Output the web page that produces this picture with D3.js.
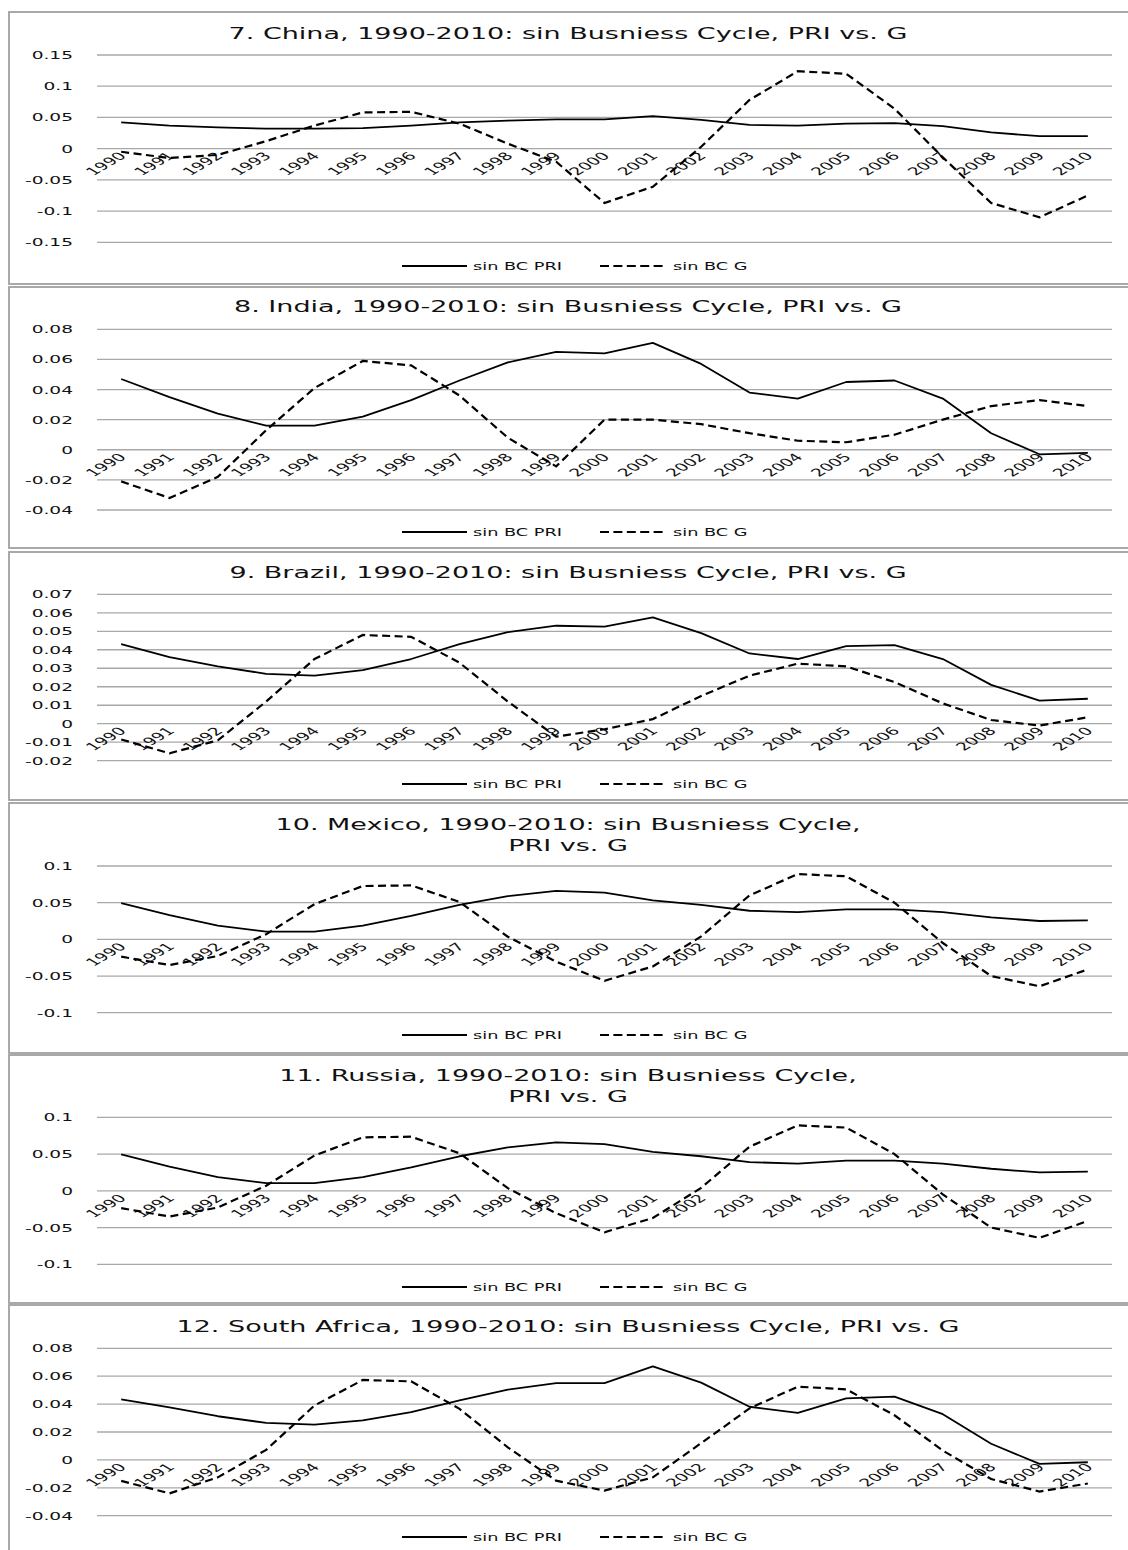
<!DOCTYPE html>
<html><head><meta charset="utf-8">
<script src="https://cdn.jsdelivr.net/npm/d3@7"></script>
<style>
body{margin:0;background:#fff}
svg{display:block}
text{font-family:"DejaVu Sans",Verdana,sans-serif;fill:#111}
</style>
</head><body>
<svg id="chart" width="1128" height="1550"></svg>
<script>
// ---------- data ----------
const years = ["1990","1991","1992","1993","1994","1995","1996","1997","1998","1999","2000",
               "2001","2002","2003","2004","2005","2006","2007","2008","2009","2010"];

const seriesNames = ["sin BC  PRI", "sin BC  G"];

const titles = [
  ["7. China, 1990-2010: sin Busniess Cycle, PRI vs. G"],
  ["8. India, 1990-2010: sin Busniess Cycle, PRI vs. G"],
  ["9. Brazil, 1990-2010: sin Busniess Cycle, PRI vs. G"],
  ["10. Mexico, 1990-2010: sin Busniess Cycle,", "PRI vs. G"],
  ["11. Russia, 1990-2010: sin Busniess Cycle,", "PRI vs. G"],
  ["12. South Africa, 1990-2010: sin Busniess Cycle, PRI vs. G"]
];

const chinaPRI = [0.042,0.037,0.034,0.032,0.032,0.033,0.037,0.042,0.045,0.047,0.047,0.052,0.046,0.038,0.037,0.040,0.041,0.036,0.026,0.020,0.020];
const chinaG   = [-0.005,-0.015,-0.010,0.012,0.037,0.058,0.059,0.040,0.008,-0.021,-0.087,-0.061,0.003,0.078,0.124,0.120,0.064,-0.014,-0.087,-0.110,-0.075];

const indiaPRI = [0.047,0.035,0.024,0.016,0.016,0.022,0.033,0.046,0.058,0.065,0.064,0.071,0.057,0.038,0.034,0.045,0.046,0.034,0.011,-0.003,-0.002];
const indiaG   = [-0.021,-0.032,-0.018,0.013,0.041,0.059,0.056,0.036,0.008,-0.011,0.020,0.020,0.017,0.011,0.006,0.005,0.010,0.020,0.029,0.033,0.029];

const brazilPRI = [0.043,0.036,0.031,0.027,0.026,0.029,0.035,0.043,0.0495,0.053,0.0525,0.0575,0.049,0.038,0.035,0.042,0.0425,0.035,0.021,0.0125,0.0135];
const brazilG   = [-0.0085,-0.016,-0.009,0.012,0.035,0.048,0.047,0.033,0.012,-0.007,-0.003,0.0025,0.015,0.026,0.0325,0.031,0.0225,0.011,0.002,-0.001,0.0035];

const mexicoPRI = [0.0495,0.033,0.0186,0.0105,0.0105,0.0186,0.032,0.047,0.059,0.066,0.0636,0.053,0.047,0.039,0.037,0.041,0.041,0.037,0.030,0.025,0.026];
const mexicoG   = [-0.0236,-0.035,-0.0227,0.007,0.048,0.0727,0.0736,0.051,0.0036,-0.0305,-0.0564,-0.037,0.004,0.060,0.089,0.086,0.050,-0.005,-0.050,-0.064,-0.041];

const russiaPRI = [0.0495,0.033,0.0186,0.0105,0.0105,0.0186,0.032,0.047,0.059,0.066,0.0636,0.053,0.047,0.039,0.037,0.041,0.041,0.037,0.030,0.025,0.026];
const russiaG   = [-0.0236,-0.035,-0.0227,0.007,0.048,0.0727,0.0736,0.051,0.0036,-0.0305,-0.0564,-0.037,0.004,0.060,0.089,0.086,0.050,-0.005,-0.050,-0.064,-0.041];

const safricaPRI = [0.0434,0.0376,0.0313,0.0265,0.0253,0.0284,0.0343,0.0426,0.0503,0.055,0.055,0.067,0.0554,0.0381,0.0337,0.0441,0.0453,0.0328,0.0116,-0.0029,-0.0017];
const safricaG   = [-0.015,-0.024,-0.0125,0.0072,0.039,0.0573,0.0563,0.0366,0.009,-0.0149,-0.022,-0.0125,0.012,0.0369,0.0525,0.0506,0.032,0.0067,-0.0137,-0.0227,-0.0169];

const ticksA = [-0.15,-0.1,-0.05,0,0.05,0.1,0.15];
const tickLabelsA = ["-0.15","-0.1","-0.05","0","0.05","0.1","0.15"];
const ticksB = [-0.04,-0.02,0,0.02,0.04,0.06,0.08];
const tickLabelsB = ["-0.04","-0.02","0","0.02","0.04","0.06","0.08"];
const ticksC = [-0.02,-0.01,0,0.01,0.02,0.03,0.04,0.05,0.06,0.07];
const tickLabelsC = ["-0.02","-0.01","0","0.01","0.02","0.03","0.04","0.05","0.06","0.07"];
const ticksD = [-0.1,-0.05,0,0.05,0.1];
const tickLabelsD = ["-0.1","-0.05","0","0.05","0.1"];

const panelData = [
  {pri: chinaPRI,   g: chinaG,   ticks: ticksA, labels: tickLabelsA},
  {pri: indiaPRI,   g: indiaG,   ticks: ticksB, labels: tickLabelsB},
  {pri: brazilPRI,  g: brazilG,  ticks: ticksC, labels: tickLabelsC},
  {pri: mexicoPRI,  g: mexicoG,  ticks: ticksD, labels: tickLabelsD},
  {pri: russiaPRI,  g: russiaG,  ticks: ticksD, labels: tickLabelsD},
  {pri: safricaPRI, g: safricaG, ticks: ticksB, labels: tickLabelsB}
];

// ---------- layout ----------
const layout = [
  {top: 12,   bottom: 284,  titleY: [33],        yBot: 242.3,  yTop: 55,    legendY: 266},
  {top: 287,  bottom: 548,  titleY: [306],       yBot: 510,    yTop: 329.3, legendY: 532},
  {top: 552,  bottom: 800,  titleY: [572],       yBot: 760.7,  yTop: 594.3, legendY: 784},
  {top: 803,  bottom: 1053, titleY: [824, 845],  yBot: 1012.7, yTop: 866,   legendY: 1035},
  {top: 1055, bottom: 1303, titleY: [1075, 1096],yBot: 1264.3, yTop: 1117.3,legendY: 1287},
  {top: 1305, bottom: 1570, titleY: [1326],      yBot: 1515.7, yTop: 1348.3,legendY: 1537}
];
const SX = 1.72;            // horizontal text stretch seen in the reference
const plotLeft = 97, plotRight = 1112;
const gridColor = "#a8a8a8";

const svg = d3.select("#chart");
svg.append("rect").attr("width",1128).attr("height",1550).attr("fill","#fff");

const x = d3.scaleBand().domain(years).range([plotLeft, plotRight]).padding(0);
const cx = d => x(d) + x.bandwidth()/2;

function stretchedText(g, tx, ty, str, size, anchor, extra) {
  return g.append("text")
    .attr("transform", `translate(${tx},${ty}) scale(${SX},1)` + (extra || ""))
    .attr("text-anchor", anchor)
    .style("font-size", size + "px")
    .text(str);
}

panelData.forEach((pd, i) => {
  const L = layout[i];
  const g = svg.append("g");

  g.append("rect")
    .attr("x", 9).attr("y", L.top)
    .attr("width", 1140).attr("height", L.bottom - L.top)
    .attr("fill", "none").attr("stroke", "#a0a0a0").attr("stroke-width", 1.8);

  const y = d3.scaleLinear()
    .domain([pd.ticks[0], pd.ticks[pd.ticks.length - 1]])
    .range([L.yBot, L.yTop]);

  // gridlines
  g.selectAll("line.grid").data(pd.ticks).join("line")
    .attr("x1", plotLeft).attr("x2", plotRight)
    .attr("y1", d => y(d)).attr("y2", d => y(d))
    .attr("stroke", gridColor).attr("stroke-width", 1.3);

  // y tick labels
  pd.ticks.forEach((t, k) => {
    stretchedText(g, 73, y(t) + 4, pd.labels[k], 10.8, "end");
  });

  // x category labels (rotated, at the zero line)
  const y0 = y(0);
  years.forEach(yr => {
    stretchedText(g, cx(yr) + 6, y0 + 8, yr, 10.8, "end", " rotate(-45)");
  });

  // title
  titles[i].forEach((line, k) => {
    stretchedText(g, 568, L.titleY[k] + 6, line, 15.7, "middle");
  });

  // lines
  const line = d3.line().x((d, k) => cx(years[k])).y(d => y(d));
  g.append("path").datum(pd.pri).attr("d", line)
    .attr("fill", "none").attr("stroke", "#000").attr("stroke-width", 1.8)
    .attr("stroke-linejoin", "round");
  g.append("path").datum(pd.g).attr("d", line)
    .attr("fill", "none").attr("stroke", "#000").attr("stroke-width", 2.2)
    .attr("stroke-dasharray", "8,4.5");

  // legend
  const ly = L.legendY;
  g.append("line").attr("x1", 402).attr("x2", 467).attr("y1", ly).attr("y2", ly)
    .attr("stroke", "#000").attr("stroke-width", 1.8);
  stretchedText(g, 473, ly + 3.7, seriesNames[0], 10.3, "start");
  g.append("line").attr("x1", 600).attr("x2", 667).attr("y1", ly).attr("y2", ly)
    .attr("stroke", "#000").attr("stroke-width", 2.2).attr("stroke-dasharray", "9,4.4");
  stretchedText(g, 673, ly + 3.7, seriesNames[1], 10.3, "start");
});
</script>
</body></html>
